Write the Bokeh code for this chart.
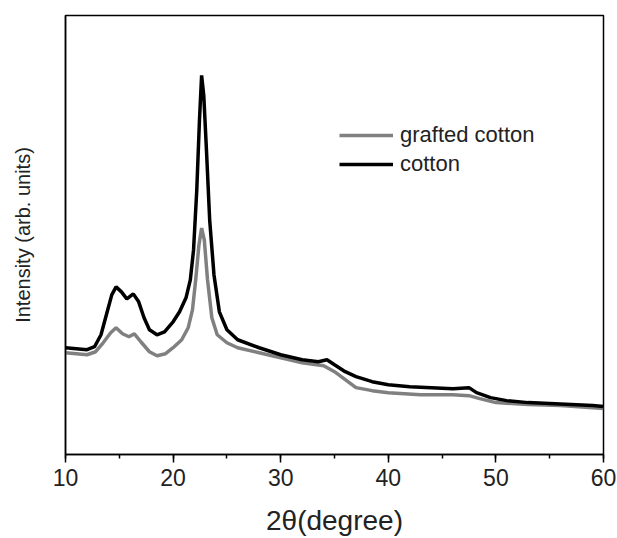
from bokeh.plotting import figure
from bokeh.models import Range1d, SingleIntervalTicker, FixedTicker, Legend, LegendItem
from bokeh.embed import file_html
from bokeh.resources import INLINE

# 2-theta positions (degree) and intensities (arb. units) for cotton
cotton_x = [10, 11, 12, 12.7, 13.3, 13.8, 14.3, 14.7, 15.2, 15.7, 16.3, 16.8, 17.3, 17.8,
            18.5, 19.2, 20.0, 20.6, 21.2, 21.6, 21.9, 22.2, 22.45, 22.65, 22.85, 23.1,
            23.4, 23.8, 24.3, 25.0, 26, 28, 30, 32, 33.5, 34.3, 35, 36, 37, 38.5, 40,
            42, 44, 46, 47.5, 48.2, 49.5, 51, 53, 55, 57, 59, 60]
cotton_y = [107, 106, 105, 108, 120, 140, 160, 168, 163, 156, 161, 153, 137, 125,
            120, 123, 133, 143, 157, 175, 205, 265, 335, 380, 360, 305,
            235, 180, 143, 125, 115, 107, 100, 95, 93, 95, 90, 83, 78, 73, 70,
            68, 67, 66, 67, 62, 57, 54, 52, 51, 50, 49, 48]

# grafted cotton
grafted_x = [10, 12, 12.8, 13.5, 14.2, 14.7, 15.3, 15.9, 16.4, 17, 17.8, 18.5, 19.3, 20,
             20.8, 21.4, 21.8, 22.1, 22.4, 22.65, 22.9, 23.2, 23.6, 24.1, 25, 26, 28,
             30, 32, 34, 35, 36, 37, 38.5, 40, 43, 46, 47.5, 48.5, 50, 53, 56, 60]
grafted_y = [102, 100, 103, 112, 122, 127, 121, 118, 121, 113, 103, 99, 101, 107,
             115, 127, 145, 175, 210, 227, 215, 175, 137, 120, 112, 107, 102,
             97, 92, 89, 83, 75, 67, 64, 62, 60, 60, 59, 56, 52, 50, 49, 46]

x_ticks = [10, 20, 30, 40, 50, 60]
series_names = ["grafted cotton", "cotton"]

FONT = "'Liberation Sans', Arial, sans-serif"

p = figure(width=617, height=538, output_backend="svg", toolbar_location=None,
           x_range=Range1d(10, 60), y_range=Range1d(0, 440),
           min_border_left=65, min_border_right=14, min_border_top=15, min_border_bottom=83)

p.grid.visible = False
p.outline_line_color = "black"
p.outline_line_width = 1.5

g = p.line(grafted_x, grafted_y, line_color="#808080", line_width=3.5)
c = p.line(cotton_x, cotton_y, line_color="black", line_width=3.5)

xa = p.xaxis[0]
xa.ticker = SingleIntervalTicker(interval=10, num_minor_ticks=2)
xa.major_label_overrides = {t: str(t) for t in x_ticks}
xa.axis_line_width = 1.5
xa.major_tick_in = 0
xa.major_tick_out = 8
xa.minor_tick_in = 0
xa.minor_tick_out = 4
xa.major_tick_line_width = 1.5
xa.minor_tick_line_width = 1.5
xa.major_label_text_font = FONT
xa.major_label_text_font_size = "23px"
xa.major_label_text_color = "#222222"
xa.major_label_standoff = 6
xa.axis_label = "2θ(degree)"
xa.axis_label_text_font = FONT
xa.axis_label_text_font_size = "28px"
xa.axis_label_text_font_style = "normal"
xa.axis_label_text_color = "#222222"
xa.axis_label_standoff = 16

ya = p.yaxis[0]
ya.ticker = FixedTicker(ticks=[])
ya.axis_line_width = 1.5
ya.major_tick_in = 0
ya.major_tick_out = 0
ya.minor_tick_in = 0
ya.minor_tick_out = 0
ya.axis_label = "Intensity (arb. units)"
ya.axis_label_text_font = FONT
ya.axis_label_text_font_size = "20px"
ya.axis_label_text_font_style = "normal"
ya.axis_label_text_color = "#222222"
ya.axis_label_standoff = 32

legend = Legend(items=[LegendItem(label=series_names[0], renderers=[g]),
                       LegendItem(label=series_names[1], renderers=[c])],
                location=(274, 277), orientation="vertical")
legend.glyph_width = 54
legend.glyph_height = 20
legend.label_text_font = FONT
legend.label_text_font_size = "22px"
legend.label_text_color = "#222222"
legend.label_standoff = 7
legend.spacing = 3
legend.padding = 0
legend.margin = 0
legend.border_line_color = None
legend.background_fill_alpha = 0
p.add_layout(legend)

open("out.html", "w").write(file_html(p, INLINE))
